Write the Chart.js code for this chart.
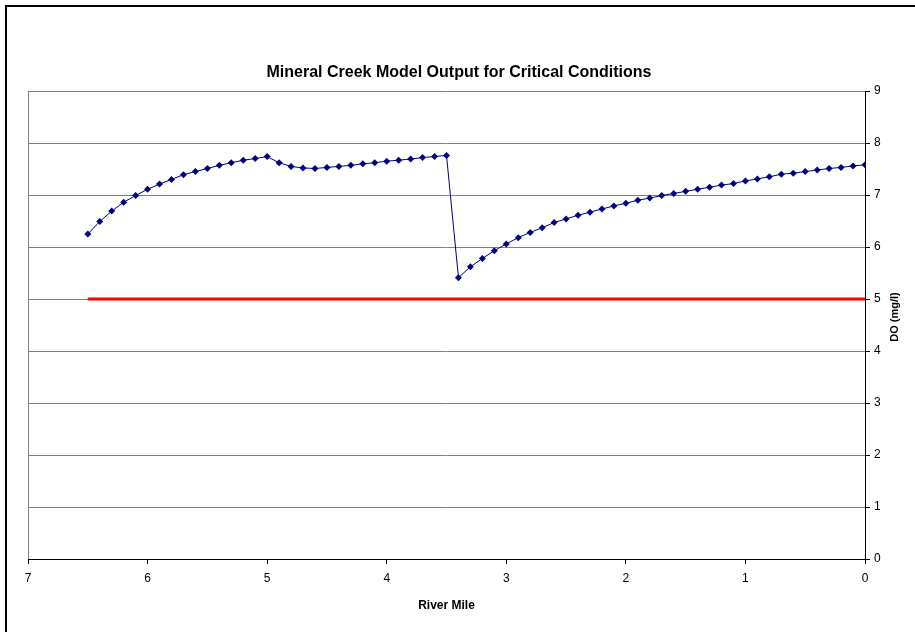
<!DOCTYPE html>
<html>
<head>
<meta charset="utf-8">
<script src="https://cdn.jsdelivr.net/npm/chart.js@4"></script>
<style>
  html, body { margin: 0; padding: 0; background: #fff; }
  canvas { display: block; }
</style>
</head>
<body>
<canvas id="chart" width="915" height="632"></canvas>
<script>
// river mile of each model node
const riverMile = [
  6.5, 6.4, 6.3, 6.2, 6.1, 6.0, 5.9, 5.8, 5.7, 5.6, 5.5, 5.4, 5.3, 5.2, 5.1, 5.0,
  4.9, 4.8, 4.7, 4.6, 4.5, 4.4, 4.3, 4.2, 4.1, 4.0, 3.9, 3.8, 3.7, 3.6, 3.5,
  3.4, 3.3, 3.2, 3.1, 3.0, 2.9, 2.8, 2.7, 2.6, 2.5, 2.4, 2.3, 2.2, 2.1, 2.0,
  1.9, 1.8, 1.7, 1.6, 1.5, 1.4, 1.3, 1.2, 1.1, 1.0, 0.9, 0.8, 0.7, 0.6, 0.5,
  0.4, 0.3, 0.2, 0.1, 0.0
];
// modelled dissolved oxygen (mg/l)
const doValues = [
  6.25, 6.49, 6.69, 6.86, 6.99, 7.11, 7.21, 7.30, 7.39, 7.45, 7.51, 7.57, 7.62, 7.67, 7.70, 7.74,
  7.62, 7.55, 7.52, 7.51, 7.53, 7.55, 7.57, 7.60, 7.62, 7.65, 7.67, 7.69, 7.72, 7.74, 7.76,
  5.41, 5.62, 5.78, 5.93, 6.06, 6.18, 6.28, 6.37, 6.47, 6.54, 6.61, 6.67, 6.73, 6.79, 6.84,
  6.90, 6.94, 6.99, 7.03, 7.07, 7.11, 7.15, 7.19, 7.22, 7.27, 7.31, 7.35, 7.40, 7.42, 7.45,
  7.48, 7.51, 7.53, 7.56, 7.58
];
// DO standard line
const standardMile = [6.5, 0];
const standardValue = [5, 5];

const FONT = "'Liberation Sans', Arial, sans-serif";

// frame, chart title and rotated y title
const framePlugin = {
  id: "frame",
  beforeDraw(chart) {
    const ctx = chart.ctx;
    ctx.save();
    ctx.fillStyle = "#fff";
    ctx.fillRect(0, 0, chart.width, chart.height);
    ctx.fillStyle = "#000";
    ctx.fillRect(5, 5, chart.width - 5, 2);
    ctx.fillRect(5, 5, 2, chart.height - 5);
    ctx.restore();
  },
  afterDraw(chart) {
    const ctx = chart.ctx;
    const area = chart.chartArea;
    ctx.save();
    ctx.fillStyle = "#000";
    ctx.textAlign = "center";
    ctx.textBaseline = "middle";
    ctx.font = "bold 16px " + FONT;
    ctx.fillText("Mineral Creek Model Output for Critical Conditions", 459, 73);
    ctx.translate(895, (area.top + area.bottom) / 2 - 8);
    ctx.rotate(-Math.PI / 2);
    ctx.font = "bold 11px " + FONT;
    ctx.fillText("DO (mg/l)", 0, 0);
    ctx.restore();
  },
};

new Chart(document.getElementById("chart").getContext("2d"), {
  type: "scatter",
  data: {
    datasets: [
      {
        label: "DO",
        data: riverMile.map((m, i) => ({ x: m, y: doValues[i] })),
        showLine: true,
        borderColor: "#000080",
        borderWidth: 1,
        backgroundColor: "#000080",
        pointStyle: "rectRot",
        pointRadius: 3.5,
        pointBorderWidth: 0,
      },
      {
        label: "Standard",
        data: standardMile.map((m, i) => ({ x: m, y: standardValue[i] })),
        showLine: true,
        borderColor: "#ff0000",
        borderWidth: 3,
        pointRadius: 0,
      },
    ],
  },
  options: {
    responsive: false,
    animation: false,
    devicePixelRatio: 1,
    layout: { padding: { left: 28, top: 91, right: 0, bottom: 0 } },
    plugins: {
      legend: { display: false },
      tooltip: { enabled: false },
      title: { display: false },
    },
    scales: {
      x: {
        type: "linear",
        reverse: true,
        min: 0,
        max: 7,
        afterFit: (scale) => { scale.height = 73; },
        ticks: {
          stepSize: 1,
          color: "#000",
          font: { family: FONT, size: 12 },
          padding: 7,
          maxRotation: 0,
        },
        grid: {
          color: (c) => (c.tick && c.tick.value === 7 ? "#808080" : "rgba(0,0,0,0)"),
          tickColor: "#000",
          tickLength: 5,
          lineWidth: 1,
        },
        border: { color: "#000", width: 1 },
        title: {
          display: true,
          text: "River Mile",
          color: "#000",
          font: { family: FONT, size: 12, weight: "bold" },
          padding: { top: 0, bottom: 19 },
        },
      },
      y: {
        position: "right",
        min: 0,
        max: 9,
        afterFit: (scale) => { scale.width = 50; },
        ticks: {
          stepSize: 1,
          color: "#000",
          font: { family: FONT, size: 12 },
          padding: 4,
        },
        grid: {
          color: "#808080",
          tickColor: "#000",
          tickLength: 5,
          lineWidth: 1,
        },
        border: { color: "#000", width: 1 },
      },
    },
  },
  plugins: [framePlugin],
});
</script>
</body>
</html>
